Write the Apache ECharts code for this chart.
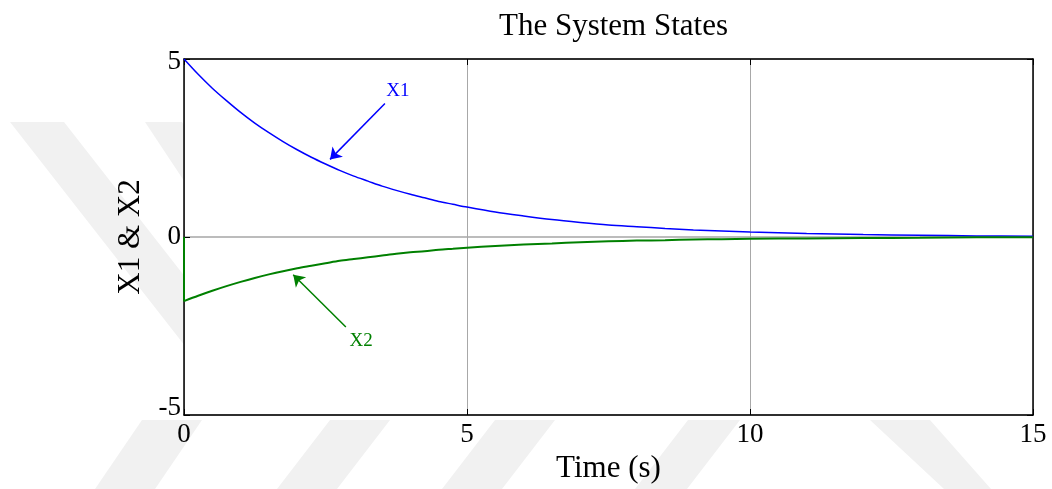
<!DOCTYPE html>
<html>
<head>
<meta charset="utf-8">
<title>The System States</title>
<script src="https://cdn.jsdelivr.net/npm/echarts@6/dist/echarts.min.js"></script>
<style>
  html, body { margin: 0; padding: 0; background: #fff; }
  #chart { width: 1052px; height: 489px; }
</style>
</head>
<body>
<div id="chart"></div>
<script>
// Simulated state trajectories (time in seconds)
const time = [0, 0.25, 0.5, 0.75, 1, 1.25, 1.5, 1.75, 2, 2.25, 2.5, 2.75, 3, 3.25, 3.5, 3.75, 4, 4.25, 4.5, 4.75, 5,
              5.5, 6, 6.5, 7, 7.5, 8, 8.5, 9, 9.5, 10, 11, 12, 13, 14, 15];
const x1 = [5.00, 4.57, 4.18, 3.83, 3.50, 3.20, 2.93, 2.68, 2.45, 2.24, 2.05, 1.87, 1.71, 1.57, 1.43, 1.31, 1.20, 1.10, 1.00, 0.92, 0.84,
            0.70, 0.59, 0.49, 0.41, 0.34, 0.29, 0.24, 0.20, 0.17, 0.14, 0.10, 0.07, 0.05, 0.03, 0.02];
const x2 = [-1.80, -1.65, -1.51, -1.38, -1.26, -1.15, -1.05, -0.96, -0.88, -0.81, -0.74, -0.67, -0.62, -0.57, -0.52, -0.47, -0.43, -0.40, -0.36, -0.33, -0.30,
            -0.25, -0.21, -0.18, -0.15, -0.12, -0.10, -0.09, -0.07, -0.06, -0.05, -0.04, -0.03, -0.02, -0.01, -0.01];
// X2 starts at zero and steps to its first value immediately
const x2Initial = 0;

// Axis ranges and ticks
const xTicks = [0, 5, 10, 15];
const yTicks = [-5, 0, 5];

// Annotation arrows: [tail, head] in data units, plus label positions
const x1Arrow = [[3.55, 3.75], [2.58, 2.18]];
const x1LabelAt = [3.78, 4.10];
const x2Arrow = [[2.86, -2.53], [1.93, -1.06]];
const x2LabelAt = [3.13, -2.92];

const FONT = "'Liberation Serif', 'Times New Roman', serif";
const GRID = { left: 184, top: 59, right: 19, bottom: 72 };

const chart = echarts.init(document.getElementById('chart'), null, { renderer: 'canvas' });

const x1Data = time.map((t, i) => [t, x1[i]]);
const x2Data = [[time[0], x2Initial]].concat(time.map((t, i) => [t, x2[i]]));

// Faint diagonal stripes behind the axes box
const stripeColor = '#f1f1f1';
function band(pts) {
  return { type: 'polygon', z: -10, silent: true, shape: { points: pts }, style: { fill: stripeColor } };
}
const stripes = [
  band([[10, 122], [64, 122], [250, 360], [196, 360]]),
  band([[145, 122], [182, 122], [300, 300], [263, 300]]),
  band([[142, 420], [202, 420], [155, 489], [95, 489]]),
  band([[330, 420], [390, 420], [337, 489], [277, 489]]),
  band([[495, 420], [555, 420], [502, 489], [442, 489]]),
  band([[688, 420], [740, 420], [687, 489], [635, 489]]),
  band([[870, 420], [930, 420], [991, 489], [944, 489]])
];

const yLabelRich = {
  lo: { fontSize: 27, fontFamily: FONT, color: '#000', padding: [0, 0, 15, 0] },
  hi: { fontSize: 27, fontFamily: FONT, color: '#000', padding: [6, 0, 0, 0] }
};

function arrowLine(color, pts) {
  return {
    silent: true, symbol: ['none', 'arrow'], symbolSize: 11,
    label: { show: false },
    lineStyle: { color: color, width: 1.5, type: 'solid' },
    data: [[{ coord: pts[0] }, { coord: pts[1] }]]
  };
}

function tagPoint(color, text, at) {
  return {
    silent: true, symbol: 'circle', symbolSize: 0,
    label: { show: true, position: 'inside', formatter: text, fontFamily: FONT, fontSize: 19, color: color },
    data: [{ coord: at }]
  };
}

const option = {
  backgroundColor: 'transparent',
  animation: false,
  title: {
    text: 'The System States',
    left: GRID.left + (1052 - GRID.left - GRID.right) / 2,
    textAlign: 'center',
    top: 6,
    textStyle: { fontFamily: FONT, fontSize: 31, fontWeight: 'normal', color: '#000' }
  },
  graphic: stripes,
  grid: {
    left: GRID.left, top: GRID.top, right: GRID.right, bottom: GRID.bottom,
    show: true, backgroundColor: '#fff', borderWidth: 0
  },
  xAxis: [
    {
      type: 'value', min: 0, max: 15, interval: 5, position: 'bottom',
      name: 'Time (s)', nameLocation: 'middle', nameGap: 38,
      nameTextStyle: { fontFamily: FONT, fontSize: 31, color: '#000' },
      axisLine: { show: true, onZero: false, lineStyle: { color: '#000', width: 1.5 } },
      axisTick: { show: true, inside: true, length: 6, lineStyle: { color: '#000' } },
      axisLabel: { fontFamily: FONT, fontSize: 27, color: '#000', margin: 6,
                   formatter: v => xTicks.includes(v) ? String(v) : '' },
      splitLine: { show: true, lineStyle: { color: '#a8a8a8', width: 1 } }
    },
    {
      type: 'value', min: 0, max: 15, interval: 5, position: 'top',
      axisLine: { show: true, onZero: false, lineStyle: { color: '#000', width: 1.5 } },
      axisTick: { show: true, inside: true, length: 6, lineStyle: { color: '#000' } },
      axisLabel: { show: false },
      splitLine: { show: false }
    }
  ],
  yAxis: [
    {
      type: 'value', min: -5, max: 5, interval: 5, position: 'left',
      name: 'X1 & X2', nameLocation: 'middle', nameGap: 38, nameRotate: 90,
      nameTextStyle: { fontFamily: FONT, fontSize: 31, color: '#000' },
      axisLine: { show: true, onZero: false, lineStyle: { color: '#000', width: 1.5 } },
      axisTick: { show: true, inside: true, length: 6, lineStyle: { color: '#000' } },
      axisLabel: {
        fontFamily: FONT, fontSize: 27, color: '#000', margin: 3,
        formatter: v => v === -5 ? '{lo|-5}' : v === 5 ? '{hi|5}' : (yTicks.includes(v) ? String(v) : ''),
        rich: yLabelRich
      },
      splitLine: { show: true, lineStyle: { color: '#bcbcbc', width: 2 } }
    },
    {
      type: 'value', min: -5, max: 5, interval: 5, position: 'right',
      axisLine: { show: true, onZero: false, lineStyle: { color: '#000', width: 1.5 } },
      axisTick: { show: true, inside: true, length: 6, lineStyle: { color: '#000' } },
      axisLabel: { show: false },
      splitLine: { show: false }
    }
  ],
  series: [
    {
      name: 'X1', type: 'line', data: x1Data, xAxisIndex: 0, yAxisIndex: 0,
      showSymbol: false, smooth: 0.3, clip: true,
      lineStyle: { color: '#0000ff', width: 1.5 },
      z: 3,
      markLine: arrowLine('#0000ff', x1Arrow),
      markPoint: tagPoint('#0000ff', 'X1', x1LabelAt)
    },
    {
      name: 'X2', type: 'line', data: x2Data, xAxisIndex: 0, yAxisIndex: 0,
      showSymbol: false, smooth: 0.3, clip: true,
      lineStyle: { color: '#008000', width: 2 },
      z: 3,
      markLine: arrowLine('#008000', x2Arrow),
      markPoint: tagPoint('#008000', 'X2', x2LabelAt)
    }
  ]
};

chart.setOption(option);
</script>
</body>
</html>
